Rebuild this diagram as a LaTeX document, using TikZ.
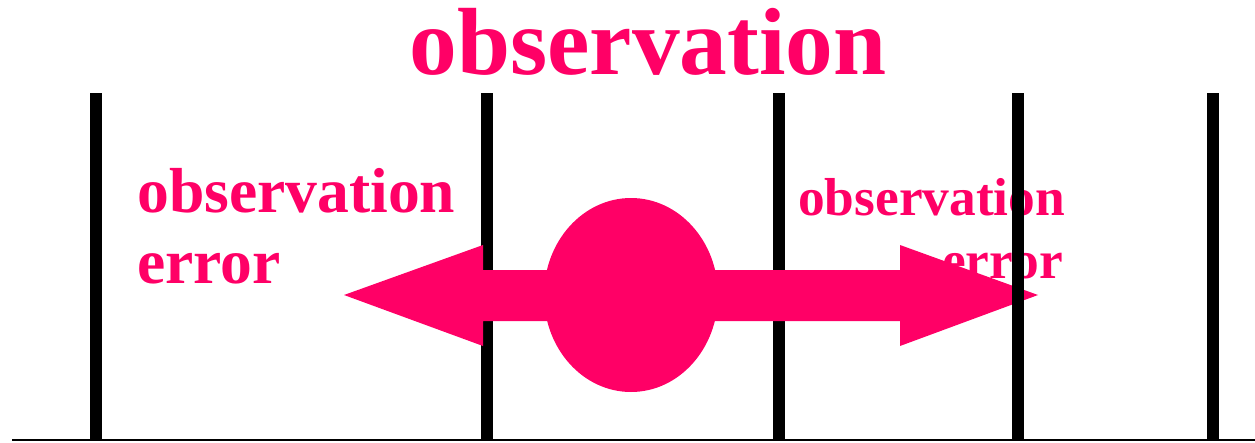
\documentclass[tikz,border=0pt]{standalone}
\usepackage{fontspec}
\setmainfont{Liberation Serif}
\usepackage{tikz}
\usetikzlibrary{positioning}
\definecolor{obsred}{RGB}{255,0,102}

\begin{document}
\begin{tikzpicture}[x=1pt, y=-1pt, tick/.style={line width=12pt}, obslabel/.style={obsred, font=\bfseries, inner sep=0pt}]
\useasboundingbox (0,0) rectangle (1255,442);
\node[obslabel, anchor=base, font=\bfseries\fontsize{95.4}{100}\selectfont] (title) at (648,74) {observation};
\node[obslabel, anchor=base west, font=\bfseries\fontsize{63.6}{70}\selectfont] (leftobs) at (137,212) {observation};
\node[obslabel, anchor=base west, font=\bfseries\fontsize{63.6}{70}\selectfont] (lefterr) at (137,283) {error};
\node[obslabel, anchor=base west, font=\bfseries\fontsize{53.4}{60}\selectfont] (rightobs) at (798,215) {observation};
\node[obslabel, anchor=base east, font=\bfseries\fontsize{53.4}{60}\selectfont] (righterr) at (1063,278) {error};
\draw[line width=2pt] (12,440) -- (1255,440);
\foreach \x in {96,487,779,1213} \draw[tick] (\x,93) -- (\x,440);
\fill[obsred] (344,295) -- (483,245) -- (483,270) -- (900,270) -- (900,245) -- (1038,295)
  -- (900,346) -- (900,321) -- (483,321) -- (483,346) -- cycle;
\fill[obsred] (631,295) ellipse [x radius=87, y radius=97];
\draw[tick] (1017.5,93) -- (1017.5,440);
\end{tikzpicture}
\end{document}
